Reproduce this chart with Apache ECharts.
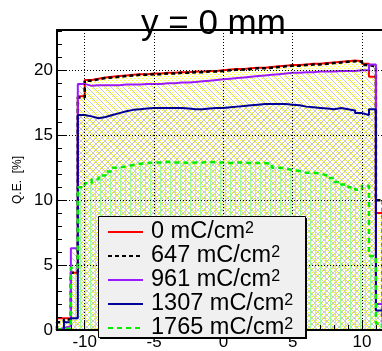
<!DOCTYPE html>
<html><head><meta charset="utf-8">
<script src="https://cdn.jsdelivr.net/npm/echarts@6/dist/echarts.min.js"></script>
<style>html,body{margin:0;padding:0;background:#fff}#c{width:382px;height:351px}</style>
</head><body><div id="c"></div>
<script>
// ---- data ----
const binEdges = [-12,-11.5,-11,-10.5,-10,-9.5,-9,-8.5,-8,-7.5,-7,-6.5,-6,-5.5,-5,-4.5,-4,-3.5,-3,-2.5,-2,-1.5,-1,-0.5,0,0.5,1,1.5,2,2.5,3,3.5,4,4.5,5,5.5,6,6.5,7,7.5,8,8.5,9,9.5,10,10.5,11,11.5,12];
const seriesNames = ['0 mC/cm2','647 mC/cm2','961 mC/cm2','1307 mC/cm2','1765 mC/cm2'];
const qe0 = [0.9,0.9,4.4,18.0,19.25,19.35,19.45,19.5,19.55,19.6,19.65,19.7,19.7,19.75,19.75,19.8,19.8,19.85,19.85,19.9,19.9,19.95,19.95,20.0,20.05,20.1,20.1,20.15,20.2,20.2,20.25,20.3,20.35,20.4,20.4,20.45,20.5,20.5,20.55,20.6,20.65,20.7,20.75,20.7,20.5,19.5,9.0,1.0];
const qe647 = [0.6,0.8,4.4,17.9,19.2,19.3,19.4,19.45,19.5,19.55,19.6,19.65,19.65,19.7,19.7,19.75,19.75,19.8,19.8,19.85,19.85,19.9,19.9,19.95,20.0,20.05,20.05,20.1,20.15,20.15,20.2,20.25,20.3,20.35,20.35,20.4,20.45,20.45,20.5,20.55,20.6,20.65,20.7,20.65,20.4,20.3,10.0,1.0];
const qe961 = [0.15,0.3,6.3,18.95,18.8,18.85,18.85,18.85,18.85,18.9,18.9,18.9,18.95,18.95,18.95,19.0,19.0,19.05,19.05,19.1,19.15,19.2,19.25,19.3,19.35,19.4,19.45,19.5,19.55,19.6,19.65,19.7,19.75,19.8,19.8,19.85,19.85,19.9,19.9,19.9,19.95,19.95,19.95,20.0,20.0,20.45,2.0,0.3];
const qe1307 = [0.0,0.6,0.9,16.55,16.45,16.3,16.4,16.55,16.7,16.85,16.95,17.0,17.05,17.1,17.1,17.1,17.1,17.1,17.05,17.0,17.0,17.05,17.1,17.1,17.15,17.2,17.25,17.3,17.35,17.4,17.4,17.4,17.4,17.35,17.3,17.2,17.15,17.1,17.05,17.0,17.1,17.0,16.9,16.7,16.55,17.0,1.5,0.2];
const qe1765 = [0.1,0.1,4.8,11.0,11.3,11.6,11.9,12.2,12.5,12.6,12.7,12.8,12.85,12.9,12.9,12.95,12.9,12.9,12.85,12.9,12.9,12.95,12.9,12.9,12.85,12.9,12.9,12.85,12.85,12.85,12.8,12.5,12.45,12.3,12.25,12.1,12.1,12.05,11.9,11.7,11.4,11.2,11.0,10.8,11.1,5.7,0.5,0.1];
const titleText = 'y = 0 mm';
const yTitle = 'Q.E.  [%]';

// ---- styling helpers ----
const FONT = '"Liberation Sans", Arial, Helvetica, sans-serif';
function pattern(w, h, pixels, color) {
  const c = document.createElement('canvas');
  c.width = w; c.height = h;
  const ctx = c.getContext('2d');
  ctx.fillStyle = color;
  pixels.forEach(p => ctx.fillRect(p[0], p[1], 1, 1));
  return { image: c, repeat: 'repeat' };
}
const yellowDots = pattern(4, 4, [[0,0],[2,2]], '#ffff33');
const hatchBack = pattern(6, 6, [[0,0],[1,1],[2,2],[3,3],[4,4],[5,5]], '#c8c8c8');
const hatchFwd = pattern(6, 6, [[0,5],[1,4],[2,3],[3,2],[4,1],[5,0]], '#c8c8c8');
const greenLines = pattern(5, 1, [[0,0]], '#99ff99');

function histData(vals) {
  const n = vals.length;
  const d = [[binEdges[0], 0]];
  for (let i = 0; i < n; i++) d.push([binEdges[i], vals[i]]);
  d.push([binEdges[n], vals[n - 1]]);
  d.push([binEdges[n], 0]);
  return d;
}

const styles = [
  { color: '#ff0000', type: 'solid', width: 2, area: yellowDots, vals: qe0 },
  { color: '#000000', type: [4, 3], width: 2.5, area: null, vals: qe647 },
  { color: '#9a1aff', type: 'solid', width: 2, area: hatchBack, vals: qe961 },
  { color: '#000099', type: 'solid', width: 2, area: hatchFwd, vals: qe1307 },
  { color: '#00ee00', type: [5, 4], width: 2.5, area: greenLines, vals: qe1765 }
];

const series = styles.map((s, k) => {
  const o = {
    name: seriesNames[k], type: 'line', step: 'end', data: histData(s.vals),
    symbol: 'none', silent: true, animation: false, z: 2,
    lineStyle: { color: s.color, width: s.width, type: s.type },
    itemStyle: { color: s.color }
  };
  if (s.area) o.areaStyle = { color: s.area, opacity: 1 };
  return o;
});

const chart = echarts.init(document.getElementById('c'), null, { renderer: 'canvas', width: 382, height: 351 });
const axisCommon = {
  type: 'value',
  axisLine: { show: true, onZero: false, lineStyle: { color: '#000', width: 2 } },
  axisTick: { show: true, inside: true, length: 10, lineStyle: { color: '#000', width: 1 } },
  minorTick: { show: true, splitNumber: 5, length: 5, lineStyle: { color: '#000', width: 1 } },
  splitLine: { show: true, lineStyle: { color: '#000', width: 1, type: [1, 2] } },
  axisLabel: { show: true, color: '#000', fontSize: 17, fontFamily: FONT, margin: 4, showMinLabel: false, showMaxLabel: false },
  z: 3
};
chart.setOption({
  animation: false,
  backgroundColor: '#fff',
  title: { text: titleText, left: 136, top: 2, textStyle: { fontSize: 35, fontWeight: 'normal', color: '#000', fontFamily: FONT }, z: 10 },
  grid: { left: 57, top: 30, right: -2, bottom: 11, containLabel: false },
  xAxis: [
    Object.assign({}, axisCommon, { min: -12, max: 11.44, position: 'bottom' }),
    { type: 'value', min: -12, max: 11.44, position: 'top', z: 3,
      axisLine: { show: true, onZero: false, lineStyle: { color: '#000', width: 2 } },
      axisTick: { show: false }, axisLabel: { show: false }, splitLine: { show: false } }
  ],
  yAxis: [
    Object.assign({}, axisCommon, {
      min: 0, max: 23.1, name: yTitle, nameLocation: 'middle', nameGap: 29,
      nameTextStyle: { fontSize: 12, color: '#000', fontFamily: FONT },
      axisLabel: Object.assign({}, axisCommon.axisLabel, { showMinLabel: true })
    })
  ],
  legend: {
    orient: 'vertical', left: 107, top: 220, itemWidth: 35, itemHeight: 14, itemGap: 0, padding: 0,
    selectedMode: false, z: 60, data: seriesNames,
    itemStyle: { opacity: 0, borderWidth: 0 },
    formatter: function (name) { return '{t|' + name.slice(0, -1) + '}{s|' + name.slice(-1) + '}'; },
    textStyle: {
      color: '#000', fontFamily: FONT,
      rich: {
        t: { fontSize: 23.5, lineHeight: 23.3, fontFamily: FONT, color: '#000', padding: [0, 0, 0, 3] },
        s: { fontSize: 16, lineHeight: 16, fontFamily: FONT, color: '#000', padding: [0, 0, 7, 0] }
      }
    }
  },
  graphic: [
    { type: 'rect', shape: { x: 100, y: 218, width: 207, height: 121 }, style: { fill: '#000' }, z: 49 },
    { type: 'rect', shape: { x: 98.5, y: 216.5, width: 207, height: 121 }, style: { fill: '#f0f0f0', stroke: '#000', lineWidth: 1 }, z: 50 }
  ],
  series: series
});
</script></body></html>
